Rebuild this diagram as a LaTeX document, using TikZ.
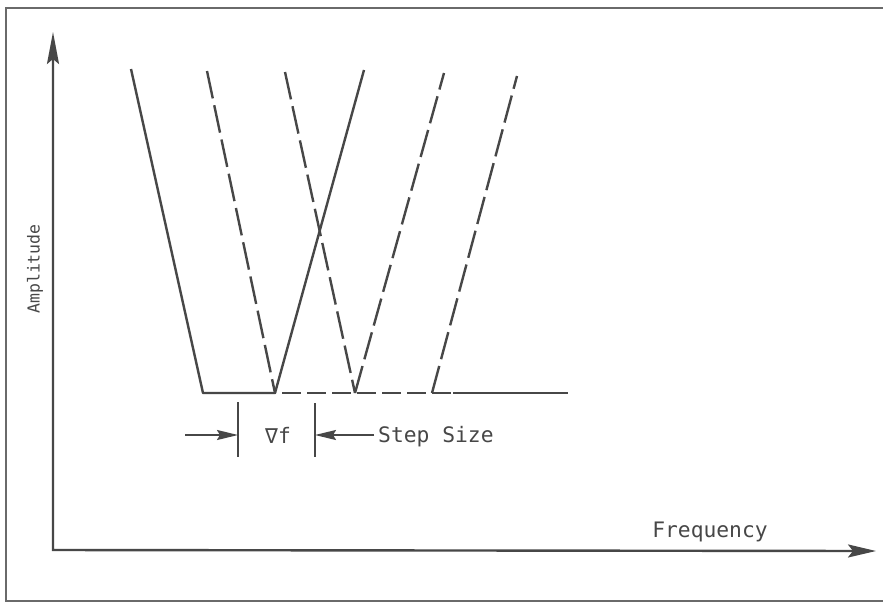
\documentclass[tikz,border=0pt]{standalone}
\usepackage{fontspec}
\newfontfamily\monof{DejaVu Sans Mono}
\usetikzlibrary{arrows.meta}
\definecolor{ink}{HTML}{474747}
\definecolor{framec}{HTML}{6A6A6A}
\begin{document}
\begin{tikzpicture}[x=1pt,y=-1pt,
  ln/.style={line width=2.4pt, draw=ink},
  dsh/.style={ln, dash pattern=on 28pt off 7pt},
  bdsh/.style={ln, dash pattern=on 19pt off 6pt},
  lbl/.style={font=\monof\fontsize{21.3}{25}\selectfont, text=ink, inner sep=0pt},
  albl/.style={font=\monof\fontsize{16.5}{20}\selectfont, text=ink, inner sep=0pt},
  axtip/.style={{Stealth[length=32pt,width=12pt,inset=5pt]}-{Stealth[length=28pt,width=13pt,inset=5pt]}},
  dimtip/.style={-{Stealth[length=21pt,width=10pt,inset=3pt]}}]
\useasboundingbox (0,0) rectangle (883,603);
\fill[white] (0,0) rectangle (883,603);
% frame (left, top, bottom)
\draw[line width=2.5pt, framec, line join=miter] (890,8) -- (6,8) -- (6,601) -- (890,601);
% axes
\coordinate (O) at (53,550);
\coordinate (Ytop) at (53,32);
\coordinate (Xend) at (876,551);
\draw[ln, axtip, line join=miter] (Ytop) -- (O) -- (Xend);
% solid filter
\coordinate (A1) at (131,69);
\coordinate (B1) at (203,393);
\coordinate (C1) at (275,393);
\coordinate (D1) at (364,70);
\draw[ln, line join=round] (A1) -- (B1) -- (C1) -- (D1);
% dashed filters
\coordinate (A2) at (207,71);
\coordinate (A3) at (285,72);
\coordinate (V2) at (355,393);
\coordinate (D2) at (444,73);
\coordinate (V3) at (432,393);
\coordinate (D3) at (517,76);
\coordinate (Bs) at (453,393);
\coordinate (Be) at (568,393);
\draw[dsh] (A2) -- (C1);
\draw[dsh] (A3) -- (V2);
\draw[dsh] (V2) -- (D2);
\draw[dsh] (V3) -- (D3);
\draw[bdsh, dash phase=-7pt] (C1) -- (Bs);
\draw[ln] (Bs) -- (Be);
% dimension
\coordinate (T1a) at (238,402);
\coordinate (T1b) at (238,457);
\coordinate (T2a) at (315,403);
\coordinate (T2b) at (315,457);
\draw[ln, line width=2pt] (T1a) -- (T1b);
\draw[ln, line width=2pt] (T2a) -- (T2b);
\coordinate (L1) at (185,435);
\coordinate (L1e) at (238,435);
\coordinate (R1e) at (315,435);
\draw[ln, line width=2pt, dimtip] (L1) -- (L1e);
\node[lbl, anchor=west] (ss) at (378,437) {Step Size};
\draw[ln, line width=2pt, dimtip] ([xshift=-4pt]ss.west |- R1e) -- (R1e);
\node[lbl] (df) at (278,435) {∇f};
% axis labels
\node[lbl] (fr) at (710,532) {Frequency};
\node[albl, rotate=90] (am) at (35,269) {Amplitude};
\end{tikzpicture}
\end{document}
